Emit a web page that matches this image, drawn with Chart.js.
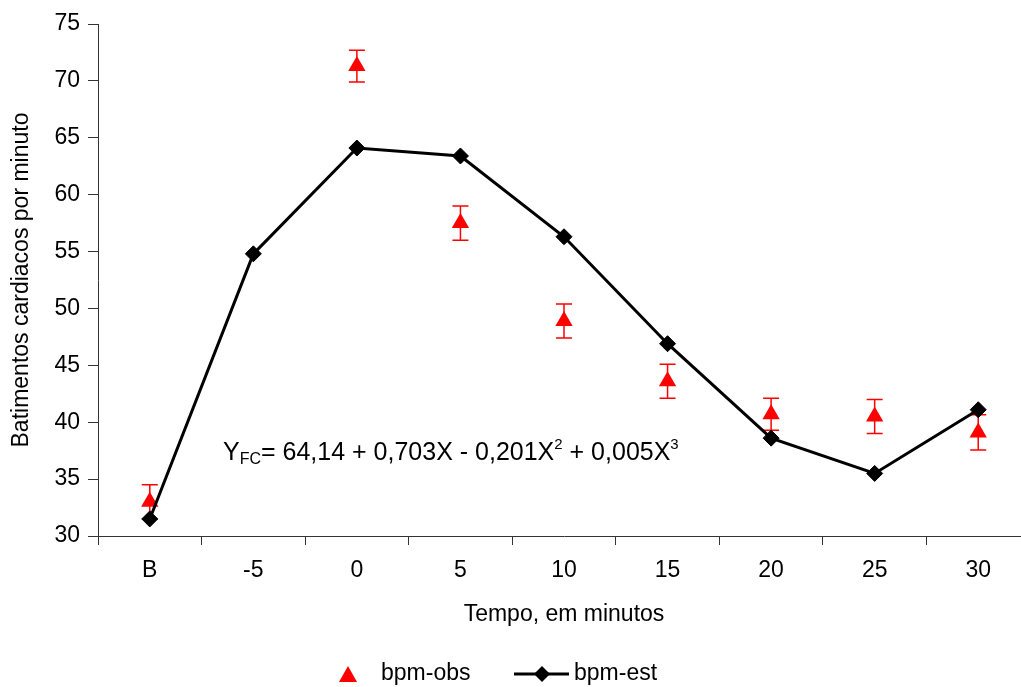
<!DOCTYPE html>
<html>
<head>
<meta charset="utf-8">
<script src="https://cdn.jsdelivr.net/npm/chart.js@4/dist/chart.umd.min.js"></script>
<style>
  html, body { margin: 0; padding: 0; background: #fff; }
  #frame { width: 1021px; height: 687px; overflow: hidden; position: relative; }
  #wrap { width: 1040px; height: 687px; }
</style>
</head>
<body>
<div id="frame"><div id="wrap"><canvas id="c" width="1040" height="687"></canvas></div></div>
<script>
// Tempo (minutos) – B = basal
const categories = ['B', '-5', '0', '5', '10', '15', '20', '25', '30'];
// Batimentos observados (média) e erro padrão
const bpmObs = [33.0, null, 71.3, 57.5, 48.9, 43.6, 40.7, 40.5, 39.1];
const bpmObsErr = [1.5, null, 1.4, 1.5, 1.5, 1.5, 1.4, 1.5, 1.55];
// Batimentos estimados pela regressão cúbica
const bpmEst = [31.5, 54.8, 64.1, 63.4, 56.3, 46.9, 38.6, 35.5, 41.1];
// Marcas do eixo Y
const yTicks = [30, 35, 40, 45, 50, 55, 60, 65, 70, 75];

const FONT = "'Liberation Sans', Arial, Helvetica, sans-serif";
const RED = '#ff0000';

// Barras de erro desenhadas sob os marcadores
const errorBars = {
  id: 'errorBars',
  beforeDatasetsDraw(chart) {
    const ctx = chart.ctx;
    const y = chart.scales.y;
    const meta = chart.getDatasetMeta(0);
    ctx.save();
    ctx.strokeStyle = RED;
    ctx.lineWidth = 1.5;
    meta.data.forEach((pt, i) => {
      const v = bpmObs[i], e = bpmObsErr[i];
      if (v == null || e == null) return;
      const x = pt.x;
      const yt = y.getPixelForValue(v + e);
      const yb = y.getPixelForValue(v - e);
      ctx.beginPath();
      ctx.moveTo(x, yt); ctx.lineTo(x, yb);
      ctx.moveTo(x - 8, yt); ctx.lineTo(x + 8, yt);
      ctx.moveTo(x - 8, yb); ctx.lineTo(x + 8, yb);
      ctx.stroke();
    });
    ctx.restore();
  }
};

// Equação da curva ajustada
const equation = {
  id: 'equation',
  afterDatasetsDraw(chart) {
    const ctx = chart.ctx;
    const a = chart.chartArea;
    let x = a.left + 125;
    const base = a.top + 436;
    const parts = [
      { t: 'Y', size: 25, dy: 0 },
      { t: 'FC', size: 16, dy: 4 },
      { t: '= 64,14 + 0,703X - 0,201X', size: 25, dy: 0 },
      { t: '2', size: 15, dy: -11 },
      { t: ' + 0,005X', size: 25, dy: 0 },
      { t: '3', size: 15, dy: -11 }
    ];
    ctx.save();
    ctx.fillStyle = '#000';
    ctx.textBaseline = 'alphabetic';
    ctx.textAlign = 'left';
    parts.forEach(p => {
      ctx.font = p.size + 'px ' + FONT;
      ctx.fillText(p.t, x, base + p.dy);
      x += ctx.measureText(p.t).width;
    });
    ctx.restore();
  }
};

// Legenda inferior
const bottomLegend = {
  id: 'bottomLegend',
  afterDraw(chart) {
    const ctx = chart.ctx;
    const cy = 674;
    ctx.save();
    ctx.font = '23px ' + FONT;
    ctx.textBaseline = 'middle';
    ctx.textAlign = 'left';
    // bpm-obs
    ctx.fillStyle = RED;
    ctx.beginPath();
    ctx.moveTo(348, cy - 8);
    ctx.lineTo(357, cy + 8);
    ctx.lineTo(339, cy + 8);
    ctx.closePath();
    ctx.fill();
    ctx.fillStyle = '#000';
    ctx.fillText(chart.data.datasets[0].label, 381, cy);
    // bpm-est
    ctx.strokeStyle = '#000';
    ctx.lineWidth = 3;
    ctx.beginPath();
    ctx.moveTo(514, cy); ctx.lineTo(569, cy);
    ctx.stroke();
    ctx.beginPath();
    ctx.moveTo(542, cy - 8); ctx.lineTo(550, cy); ctx.lineTo(542, cy + 8); ctx.lineTo(534, cy);
    ctx.closePath();
    ctx.fill();
    ctx.fillText(chart.data.datasets[1].label, 574, cy);
    ctx.restore();
  }
};

new Chart(document.getElementById('c'), {
  type: 'line',
  data: {
    labels: categories,
    datasets: [
      {
        label: 'bpm-obs',
        data: bpmObs,
        showLine: false,
        pointStyle: 'triangle',
        pointRadius: 10,
        pointBackgroundColor: RED,
        pointBorderColor: RED,
        pointBorderWidth: 0,
        order: 1
      },
      {
        label: 'bpm-est',
        data: bpmEst,
        borderColor: '#000',
        borderWidth: 3,
        tension: 0,
        pointStyle: 'rectRot',
        pointRadius: 8,
        pointBackgroundColor: '#000',
        pointBorderColor: '#000',
        pointBorderWidth: 1,
        order: 0
      }
    ]
  },
  options: {
    responsive: false,
    animation: false,
    events: [],
    layout: { padding: { top: 24, right: 7, bottom: 0, left: 0 } },
    plugins: {
      legend: { display: false },
      tooltip: { enabled: false }
    },
    scales: {
      x: {
        type: 'category',
        offset: true,
        grid: {
          offset: true,
          drawOnChartArea: false,
          drawTicks: true,
          tickLength: 9,
          color: '#333'
        },
        border: { color: '#333', width: 1 },
        ticks: {
          color: '#000',
          font: { family: FONT, size: 23 },
          padding: 12,
          maxRotation: 0,
          autoSkip: false
        },
        title: {
          display: true,
          text: 'Tempo, em minutos',
          color: '#000',
          font: { family: FONT, size: 23 },
          padding: { top: 0, bottom: 59 }
        },
        afterFit(scale) { scale.height = 151; }
      },
      y: {
        min: 30,
        max: 75,
        afterBuildTicks(scale) { scale.ticks = yTicks.map(v => ({ value: v })); },
        grid: {
          drawOnChartArea: false,
          drawTicks: true,
          tickLength: 10,
          color: '#333'
        },
        border: { color: '#333', width: 1 },
        ticks: {
          color: '#000',
          font: { family: FONT, size: 23 },
          padding: 8
        },
        title: {
          display: true,
          text: 'Batimentos cardiacos por minuto',
          color: '#000',
          font: { family: FONT, size: 23 },
          padding: { top: 8, bottom: 0 }
        },
        afterFit(scale) { scale.width = 98; }
      }
    }
  },
  plugins: [errorBars, equation, bottomLegend]
});
</script>
</body>
</html>
